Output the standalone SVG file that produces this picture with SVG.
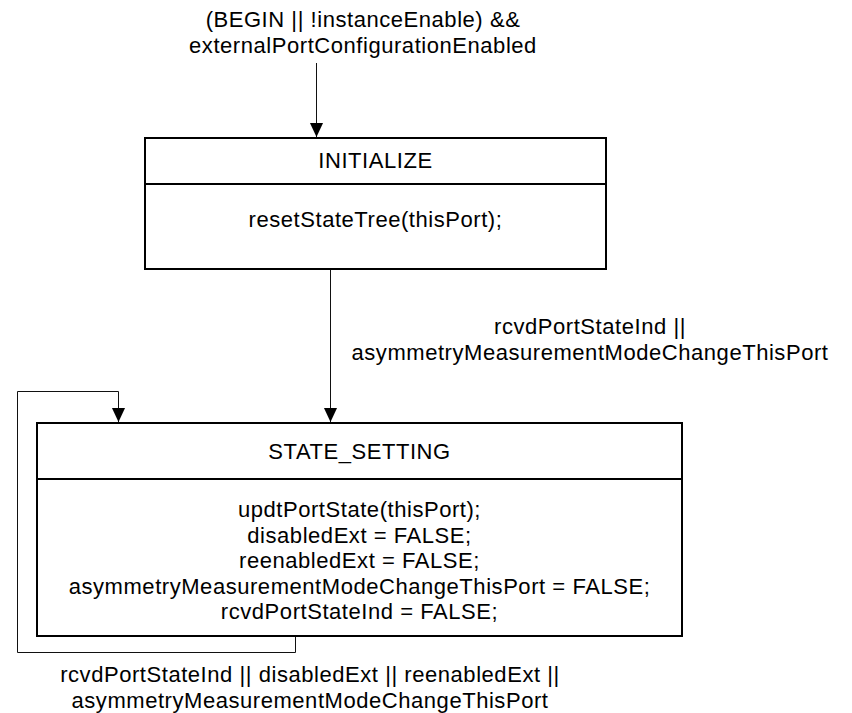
<svg xmlns="http://www.w3.org/2000/svg" width="852" height="713" viewBox="0 0 852 713">
<style>
text{font-family:"Liberation Sans",Arial,sans-serif;font-size:22px;letter-spacing:0.55px;fill:#000;text-anchor:middle}
.box{fill:#fff;stroke:#000;stroke-width:2}
.sep{stroke:#000;stroke-width:2}
.conn{fill:none;stroke:#111;stroke-width:1}
</style>
<defs>
<marker id="arr" markerWidth="14" markerHeight="15" refX="15" refY="7" orient="auto" markerUnits="userSpaceOnUse" viewBox="0 0 15 14">
<path d="M0,0 L15,7 L0,14 Z" fill="#000"/>
</marker>
</defs>
<rect width="852" height="713" fill="#fff"/>
<g id="connectors">
<path class="conn" d="M316.5,63 L316.5,137" marker-end="url(#arr)"/>
<path class="conn" d="M330.5,269 L330.5,422" marker-end="url(#arr)"/>
<path class="conn" d="M295.5,637 L295.5,652.5 L17.5,652.5 L17.5,391.5 L118.5,391.5 L118.5,422" marker-end="url(#arr)"/>
<text x="363" y="27">(BEGIN || !instanceEnable) &amp;&amp;</text>
<text x="363" y="53">externalPortConfigurationEnabled</text>
<text x="590" y="334">rcvdPortStateInd ||</text>
<text x="590" y="360">asymmetryMeasurementModeChangeThisPort</text>
<text x="310" y="682">rcvdPortStateInd || disabledExt || reenabledExt ||</text>
<text x="310" y="708">asymmetryMeasurementModeChangeThisPort</text>
</g>
<g id="INITIALIZE">
<rect class="box" x="145" y="138" width="461" height="131"/>
<line class="sep" x1="145" y1="184" x2="606" y2="184"/>
<text x="375.5" y="168.3">INITIALIZE</text>
<text x="375.5" y="227">resetStateTree(thisPort);</text>
</g>
<g id="STATE_SETTING">
<rect class="box" x="37" y="423" width="645" height="213"/>
<line class="sep" x1="37" y1="479" x2="682" y2="479"/>
<text x="359.5" y="458.5">STATE_SETTING</text>
<text x="359.5" y="517.3">updtPortState(thisPort);</text>
<text x="359.5" y="542.8">disabledExt = FALSE;</text>
<text x="359.5" y="568.3">reenabledExt = FALSE;</text>
<text x="359.5" y="593.8">asymmetryMeasurementModeChangeThisPort = FALSE;</text>
<text x="359.5" y="619.3">rcvdPortStateInd = FALSE;</text>
</g>
</svg>
